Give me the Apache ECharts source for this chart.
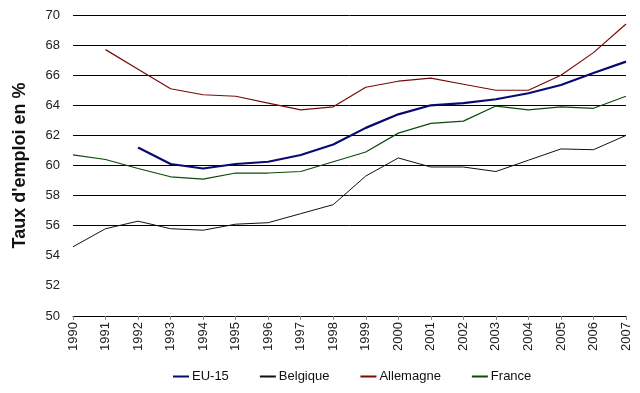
<!DOCTYPE html>
<html><head><meta charset="utf-8">
<script src="https://cdn.jsdelivr.net/npm/echarts@6/dist/echarts.min.js"></script>
<style>html,body{margin:0;padding:0;background:#fff}#c{width:640px;height:393px}</style>
</head><body><div id="c"></div>
<script>
var years = ['1990','1991','1992','1993','1994','1995','1996','1997','1998','1999','2000','2001','2002','2003','2004','2005','2006','2007'];
var eu15 = [null,null,61.2,60.1,59.8,60.1,60.25,60.7,61.4,62.5,63.4,64.0,64.15,64.4,64.8,65.35,66.15,66.9];
var belgique = [54.6,55.8,56.3,55.8,55.7,56.1,56.2,56.8,57.4,59.3,60.5,59.9,59.9,59.6,60.35,61.1,61.05,62.0];
var allemagne = [null,67.7,66.4,65.1,64.7,64.6,64.15,63.7,63.9,65.2,65.6,65.8,65.4,65.0,65.0,66.0,67.5,69.4];
var france = [60.7,60.4,59.8,59.25,59.1,59.5,59.5,59.6,60.25,60.9,62.15,62.8,62.95,63.95,63.7,63.9,63.8,64.6];
var yTitle = "Taux d'emploi en %";

var chart = echarts.init(document.getElementById('c'));
var font = 'Liberation Sans, Arial, sans-serif';
function s(name, data, color, width) {
  return {name: name, type: 'line', data: data, symbol: 'none', showSymbol: false,
    connectNulls: false, smooth: false, color: color,
    lineStyle: {color: color, width: width}, emphasis: {disabled: true}, animation: false};
}
chart.setOption({
  animation: false,
  backgroundColor: '#fff',
  grid: {left: 73, right: 14, top: 15, bottom: 77, containLabel: false},
  legend: {
    bottom: 5, left: 168, itemGap: 31, itemWidth: 16, itemHeight: 2, icon: 'rect',
    textStyle: {fontFamily: font, fontSize: 13, color: '#111', padding: [0, 0, 0, -2]},
    data: ['EU-15', 'Belgique', 'Allemagne', 'France']
  },
  xAxis: {
    type: 'category', data: years, boundaryGap: false,
    axisLine: {lineStyle: {color: '#000', width: 1}},
    axisTick: {show: true, alignWithLabel: true, length: 4, lineStyle: {color: '#888'}},
    axisLabel: {rotate: 90, interval: 0, fontFamily: font, fontSize: 13, color: '#222', margin: 6},
    splitLine: {show: false}
  },
  yAxis: {
    type: 'value', min: 50, max: 70, interval: 2,
    name: yTitle, nameLocation: 'middle', nameGap: 44, nameRotate: 90,
    nameTextStyle: {fontFamily: font, fontSize: 18, fontWeight: 'bold', color: '#111'},
    axisLine: {show: false}, axisTick: {show: false},
    axisLabel: {fontFamily: font, fontSize: 13, color: '#222', margin: 13},
    splitLine: {show: true, lineStyle: {color: ['#000','#fff','#fff','#000','#000','#000','#000','#000','#000','#000','#000'], width: 1}}
  },
  series: [
    s('EU-15', eu15, '#0a0a6e', 2.2),
    s('Belgique', belgique, '#111', 1),
    s('Allemagne', allemagne, '#7a0a0a', 1.2),
    s('France', france, '#0b4a0b', 1.2)
  ]
});
</script></body></html>
